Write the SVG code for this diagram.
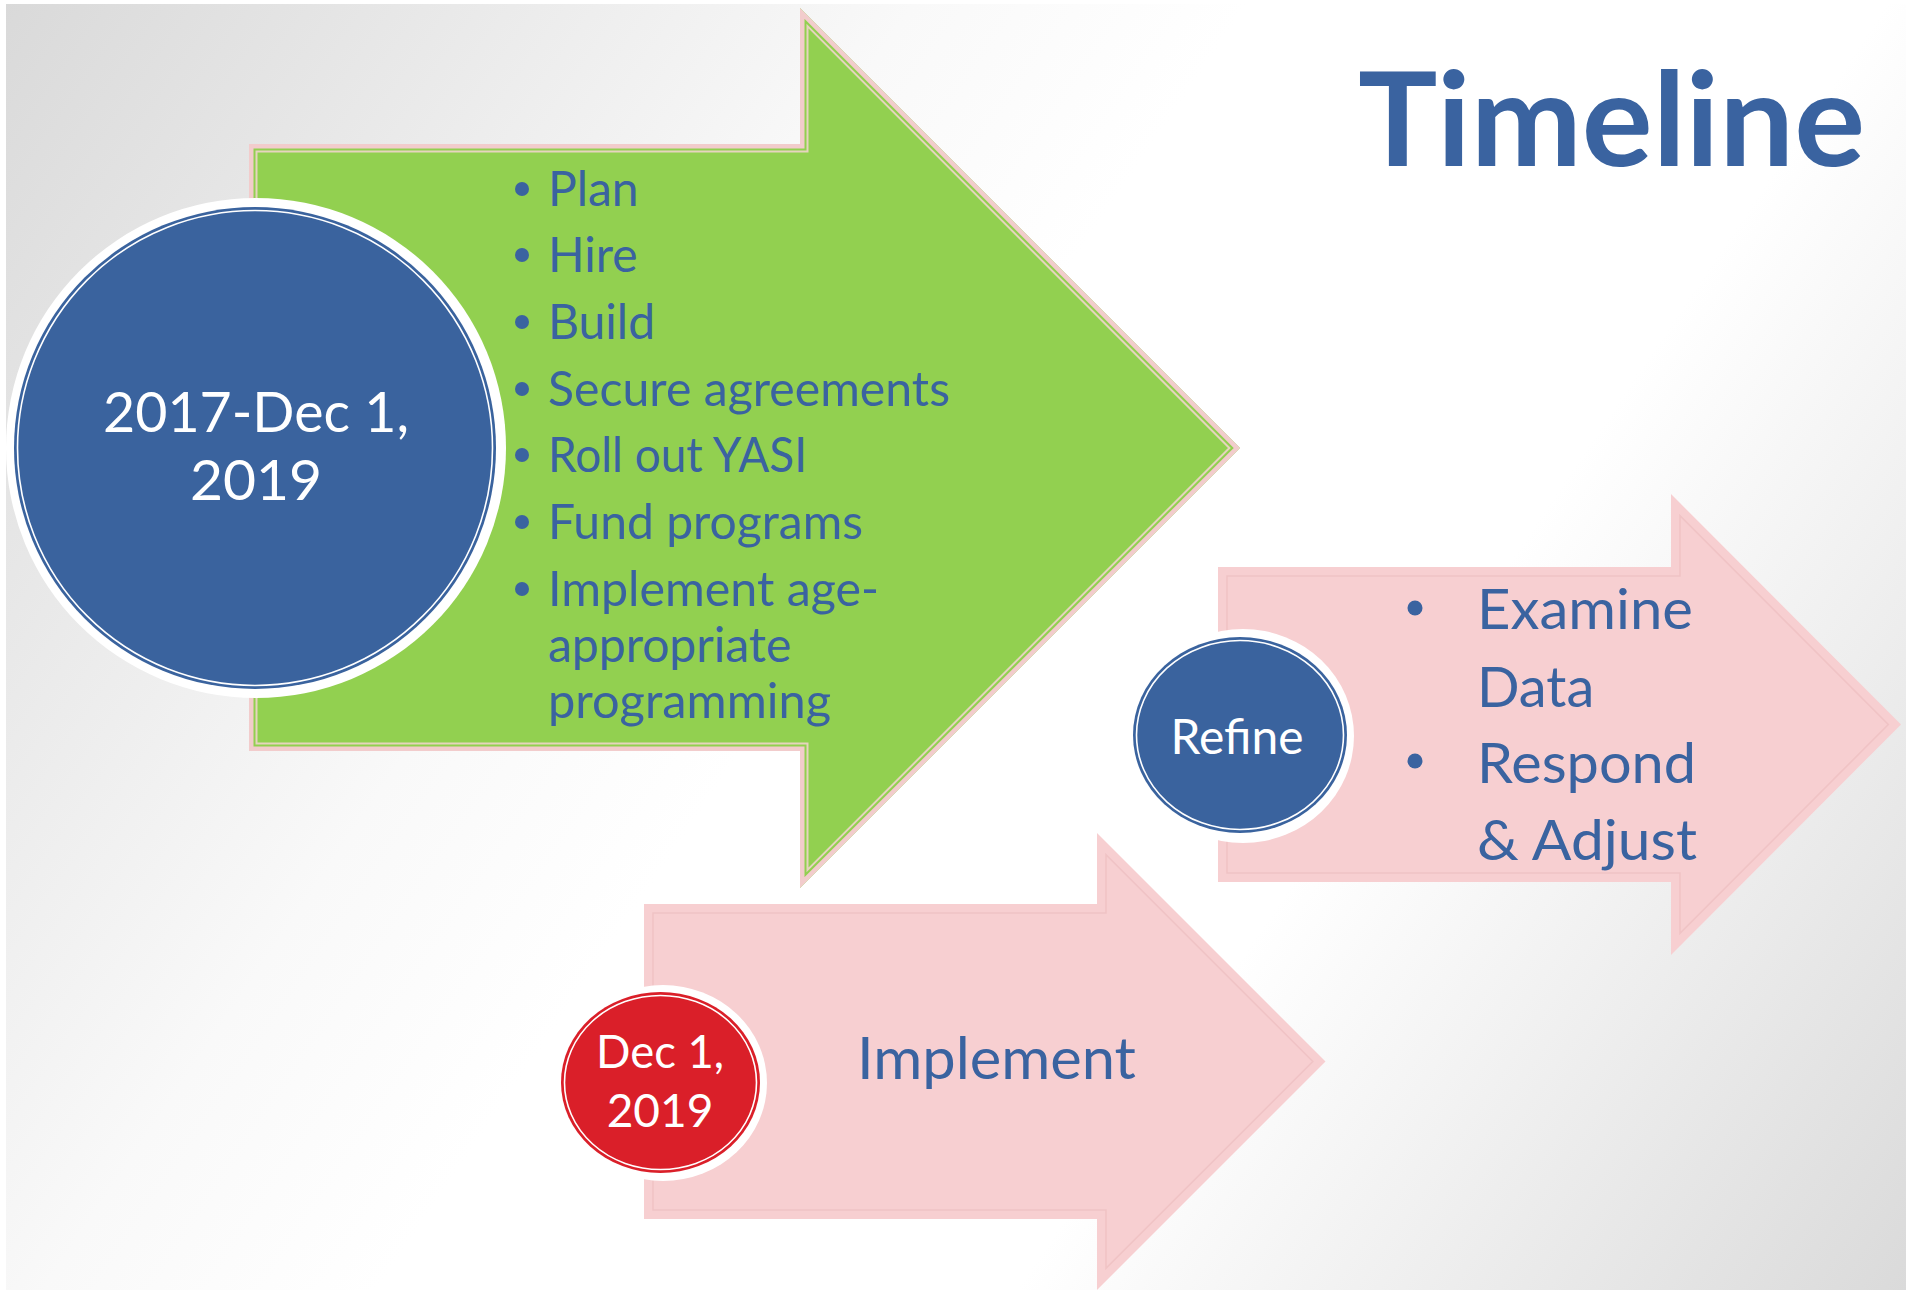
<svg xmlns="http://www.w3.org/2000/svg" width="1906" height="1290" viewBox="0 0 1906 1290">
  <defs>
    <linearGradient id="bg" gradientUnits="userSpaceOnUse" x1="0" y1="0" x2="1906" y2="1290">
      <stop offset="0" stop-color="#D9D9D9"/>
      <stop offset="0.33" stop-color="#F9F9F9"/>
      <stop offset="0.45" stop-color="#FFFFFF"/>
      <stop offset="0.68" stop-color="#FFFFFF"/>
      <stop offset="1" stop-color="#DADADA"/>
    </linearGradient>
  </defs>
  <style>
    .body { font-family: Lato, "Open Sans", "Liberation Sans", sans-serif; }
    .blue-text { fill: #3A63A0; }
    .white-text { fill: #FFFFFF; }
    .halo { fill: #FFFFFF; }
    .inner-ring { fill: none; stroke: #FFFFFF; stroke-width: 1.6; }
    .pink-fill { fill: #F7CFD1; }
    .pink-line { fill: none; stroke: #F0C3C5; stroke-width: 1.6; }
    .dot { fill: #3A63A0; }
  </style>

  <rect x="0" y="0" width="1906" height="1290" fill="#FFFFFF"/>
  <rect x="6" y="4" width="1900" height="1286" fill="url(#bg)"/>

  <g id="connectors"></g>

  <g id="node-title">
    <text class="body blue-text" x="1358" y="166" font-size="131" font-weight="700" textLength="507" lengthAdjust="spacingAndGlyphs">Timeline</text>
  </g>

  <g id="node-plan-arrow">
    <polygon points="249,144 800,144 800,8 1240,448 800,888 800,751 249,751" fill="#92D050"/>
    <polygon points="251.25,146.25 802.25,146.25 802.25,13.43 1236.82,448 802.25,882.57 802.25,748.75 251.25,748.75" fill="none" stroke="#F2CCCC" stroke-width="4.5"/>
    <polygon points="256.5,151.5 807.5,151.5 807.5,26.1 1229.4,448 807.5,869.9 807.5,743.5 256.5,743.5" fill="none" stroke="#E6D4BE" stroke-width="2"/>
    <g class="body blue-text" font-size="48">
      <circle class="dot" cx="522" cy="189" r="7"/>
      <text x="548" y="206">Plan</text>
      <circle class="dot" cx="522" cy="255" r="7"/>
      <text x="548" y="272">Hire</text>
      <circle class="dot" cx="522" cy="322" r="7"/>
      <text x="548" y="339">Build</text>
      <circle class="dot" cx="522" cy="389" r="7"/>
      <text x="548" y="406" textLength="402" lengthAdjust="spacingAndGlyphs">Secure agreements</text>
      <circle class="dot" cx="522" cy="455" r="7"/>
      <text x="548" y="472" textLength="259" lengthAdjust="spacingAndGlyphs">Roll out YASI</text>
      <circle class="dot" cx="522" cy="522" r="7"/>
      <text x="548" y="539" textLength="315" lengthAdjust="spacingAndGlyphs">Fund programs</text>
      <circle class="dot" cx="522" cy="589" r="7"/>
      <text x="548" y="606" textLength="331" lengthAdjust="spacingAndGlyphs">Implement age-</text>
      <text x="548" y="662">appropriate</text>
      <text x="548" y="718" textLength="283" lengthAdjust="spacingAndGlyphs">programming</text>
    </g>
  </g>

  <g id="node-plan-circle">
    <circle class="halo" cx="256" cy="448" r="250"/>
    <circle cx="255" cy="448" r="241" fill="#3A639E"/>
    <circle class="inner-ring" cx="255" cy="448" r="237.5"/>
    <text class="body white-text" x="256" y="432" font-size="57" text-anchor="middle" textLength="306" lengthAdjust="spacingAndGlyphs">2017-Dec 1,</text>
    <text class="body white-text" x="256" y="500" font-size="57" text-anchor="middle">2019</text>
  </g>

  <g id="node-refine-arrow">
    <polygon class="pink-fill" points="1218,567 1671,567 1671,494 1901,724.5 1671,955 1671,882 1218,882"/>
    <polygon class="pink-line" points="1227,576 1680,576 1680,515.7 1888.3,724.5 1680,933.3 1680,873 1227,873"/>
    <g class="body blue-text" font-size="56">
      <circle class="dot" cx="1415" cy="608" r="7.5"/>
      <text x="1477" y="629" textLength="216" lengthAdjust="spacingAndGlyphs">Examine</text>
      <text x="1477" y="707">Data</text>
      <circle class="dot" cx="1415" cy="761" r="7.5"/>
      <text x="1477" y="783" textLength="219" lengthAdjust="spacingAndGlyphs">Respond</text>
      <text x="1477" y="860" textLength="220" lengthAdjust="spacingAndGlyphs">&amp; Adjust</text>
    </g>
  </g>

  <g id="node-refine-circle">
    <ellipse class="halo" cx="1243" cy="736" rx="111" ry="107"/>
    <ellipse cx="1240" cy="735" rx="107" ry="98" fill="#3A639E"/>
    <ellipse class="inner-ring" cx="1240" cy="735" rx="103.5" ry="94.5"/>
    <text class="body white-text" x="1237" y="754" font-size="48" text-anchor="middle" textLength="133" lengthAdjust="spacingAndGlyphs">Refine</text>
  </g>

  <g id="node-implement-arrow">
    <polygon class="pink-fill" points="644,904 1097,904 1097,833 1325.5,1061.5 1097,1290 1097,1219 644,1219"/>
    <polygon class="pink-line" points="653,913 1106,913 1106,854.7 1312.8,1061.5 1106,1268.3 1106,1210 653,1210"/>
    <text class="body blue-text" x="857" y="1079" font-size="58" textLength="279" lengthAdjust="spacingAndGlyphs">Implement</text>
  </g>

  <g id="node-implement-circle">
    <ellipse class="halo" cx="663" cy="1083" rx="104" ry="98"/>
    <ellipse cx="660.5" cy="1082.5" rx="99.5" ry="90.5" fill="#DA1F29"/>
    <ellipse class="inner-ring" cx="660.5" cy="1082.5" rx="96" ry="87"/>
    <text class="body white-text" x="660" y="1068" font-size="46" text-anchor="middle" textLength="128" lengthAdjust="spacingAndGlyphs">Dec 1,</text>
    <text class="body white-text" x="660" y="1127" font-size="46" text-anchor="middle">2019</text>
  </g>
</svg>
